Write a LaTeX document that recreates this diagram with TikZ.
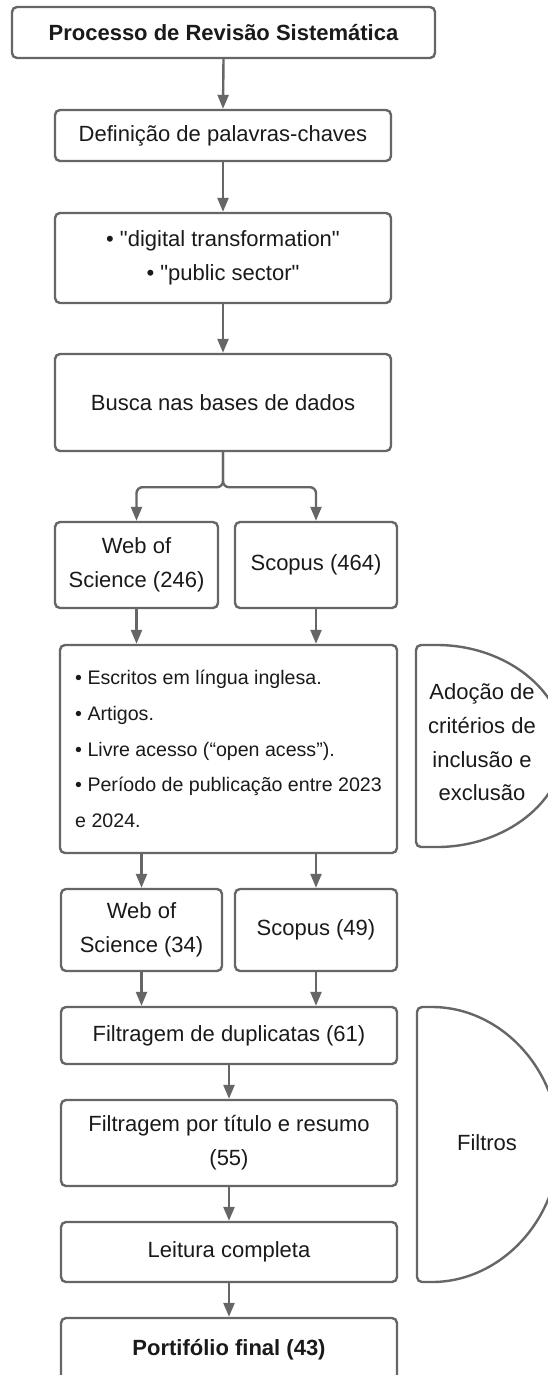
\documentclass[tikz,border=0pt]{standalone}
\usepackage{fontspec}
\setmainfont{Liberation Sans}[Ligatures=TeXOff]
\usetikzlibrary{arrows.meta}
\definecolor{ln}{HTML}{666666}
\definecolor{tx}{HTML}{1A1A1A}
\begin{document}
\begin{tikzpicture}[x=1pt,y=-1pt,
  box/.style={draw=ln, line width=2.4pt, rounded corners=5pt, fill=white, text=tx,
    align=center, inner sep=0pt, font=\fontsize{22}{34}\selectfont},
  arr/.style={draw=ln, line width=2.4pt, -{Triangle[length=14pt,width=11pt]}},
  half/.style={draw=ln, line width=2.4pt, rounded corners=5pt, fill=white},
  lbl/.style={text=tx, align=center, inner sep=0pt, font=\fontsize{22}{33.7}\selectfont}]
\useasboundingbox (0,0) rectangle (547,1375);
\fill[white] (0,0) rectangle (547,1375);

% main column
\node[box, minimum width=423pt, minimum height=51pt] (b1) at (223.5,32.5) {\bfseries Processo de Revisão Sistemática};
\node[box, minimum width=336pt, minimum height=51pt] (b2) at (223,135.5) {Definição de palavras-chaves};
\node[box, minimum width=336pt, minimum height=90pt] (b3) at (223,258) {• "digital transformation"\\• "public sector"};
\node[box, minimum width=336pt, minimum height=97pt] (b4) at (223,402.5) {Busca nas bases de dados};

\node[box, minimum width=163pt, minimum height=86pt] (wos1) at (136.5,565) {Web of\\Science (246)};
\node[box, minimum width=162pt, minimum height=86pt] (sco1) at (316,565) {Scopus (464)};

\node[box, minimum width=337pt, minimum height=208pt, align=left,
  font=\fontsize{19.6}{35.7}\selectfont] (crit) at (228.5,749)
  {• Escritos em língua inglesa.\\• Artigos.\\• Livre acesso (“open acess”).\\• Período de publicação entre 2023\\e 2024.};

\node[box, minimum width=161pt, minimum height=82pt] (wos2) at (141.5,930) {Web of\\Science (34)};
\node[box, minimum width=162pt, minimum height=82pt] (sco2) at (316,930) {Scopus (49)};

\node[box, minimum width=336pt, minimum height=57pt] (dup) at (229,1035.5) {Filtragem de duplicatas (61)};
\node[box, minimum width=336pt, minimum height=86pt] (tit) at (229,1143) {Filtragem por título e resumo\\(55)};
\node[box, minimum width=336pt, minimum height=60pt] (leit) at (229,1252) {Leitura completa};
\node[box, minimum width=336pt, minimum height=64pt] (port) at (229,1350) {\bfseries Portifólio final (43)};

% side shapes
\draw[half] (432,645) arc[start angle=90, end angle=-90, x radius=132pt, y radius=101pt]
  -- (416,847) -- (416,645) -- cycle;
\node[lbl] (adt) at (482,742.5) {Adoção de\\critérios de\\inclusão e\\exclusão};

\draw[half] (427,1007) arc[start angle=90, end angle=-90, x radius=132pt, y radius=137.5pt]
  -- (417,1282) -- (417,1007) -- cycle;
\node[lbl] (fil) at (487,1143) {Filtros};

% connectors
\draw[arr] (b1.south) -- (b2.north);
\draw[arr] (b2.south) -- (b3.north);
\draw[arr] (b3.south) -- (b4.north);
\draw[arr, rounded corners=6pt] (b4.south) -- ++(0,35) -| (wos1.north);
\draw[arr, rounded corners=6pt] (b4.south) -- ++(0,35) -| (sco1.north);
\draw[arr] (wos1.south) -- (wos1.south |- crit.north);
\draw[arr] (sco1.south) -- (sco1.south |- crit.north);
\draw[arr] (wos2.north |- crit.south) -- (wos2.north);
\draw[arr] (sco2.north |- crit.south) -- (sco2.north);
\draw[arr] (wos2.south) -- (wos2.south |- dup.north);
\draw[arr] (sco2.south) -- (sco2.south |- dup.north);
\draw[arr] (dup.south) -- (tit.north);
\draw[arr] (tit.south) -- (leit.north);
\draw[arr] (leit.south) -- (port.north);
\end{tikzpicture}
\end{document}
